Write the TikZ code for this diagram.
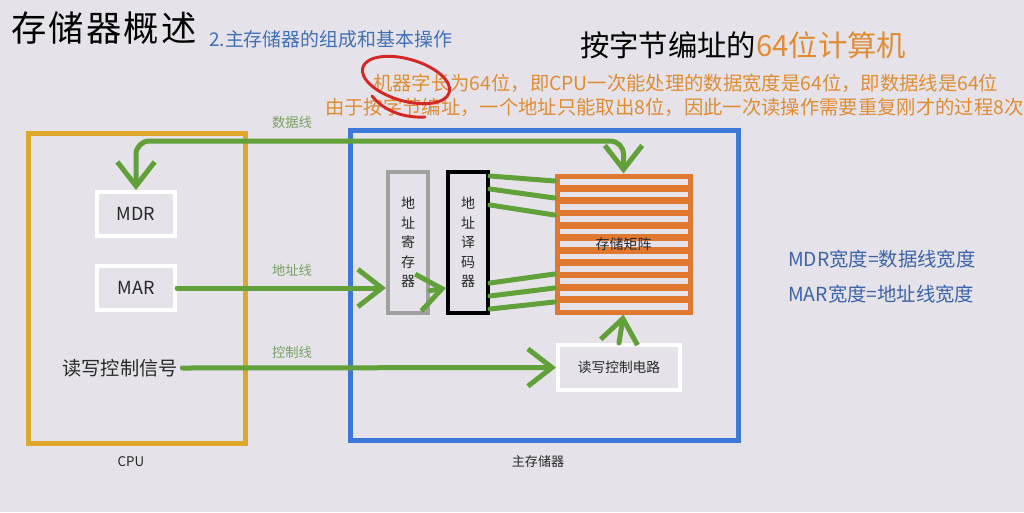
\documentclass[tikz,border=0pt]{standalone}
\usepackage{fontspec}
\setmainfont{Noto Sans CJK SC}
\usetikzlibrary{arrows.meta,calc}
\definecolor{bg}{RGB}{229,227,233}
\definecolor{gold}{RGB}{224,168,40}
\definecolor{boxblue}{RGB}{60,120,216}
\definecolor{lgreen}{RGB}{98,160,58}
\definecolor{morange}{RGB}{224,120,48}
\definecolor{torange}{RGB}{224,140,50}
\definecolor{subblue}{RGB}{64,112,184}
\definecolor{rblue}{RGB}{60,100,170}
\definecolor{labgreen}{RGB}{120,160,100}
\definecolor{dtext}{RGB}{40,40,40}
\definecolor{rgray}{RGB}{160,160,160}
\definecolor{redc}{RGB}{212,40,40}
\newcommand{\fsz}[1]{\fontsize{#1}{#1}\selectfont}
\begin{document}
\begin{tikzpicture}[x=0.75pt,y=-0.75pt,
  whitebox/.style={draw=white,line width=3pt,text=dtext,inner sep=0pt},
  vbox/.style={line width=3pt,inner sep=0pt,align=center,text=dtext,font=\fontsize{10.5pt}{14.6pt}\selectfont},
  gline/.style={draw=lgreen,line width=3.75pt,line cap=round,line join=round},
  garrow/.style={gline,-{Straight Barb[length=18pt,width=28pt]}},
  glabel/.style={text=labgreen,font=\fsz{10pt}},
  otext/.style={text=torange,font=\fsz{14.5pt},anchor=west,inner sep=0pt},
  rtext/.style={text=rblue,font=\fsz{14.5pt},anchor=west,inner sep=0pt}]
\fill[bg] (0,0) rectangle (1024,512);
\useasboundingbox (0,0) rectangle (1024,512);

% titles
\node[anchor=west,inner sep=0pt,text=black,font=\fsz{26.5pt}] (title) at (11,28) {存\kern1.6pt 储\kern1.6pt 器\kern1.6pt 概\kern1.6pt 述};
\node[anchor=west,inner sep=0pt,text=subblue,font=\fsz{14.2pt}] (subtitle) at (209,39) {2.主存储器的组成和基本操作};
\node[anchor=west,inner sep=0pt,text=black,font=\fsz{22pt}] (head) at (580,45) {按字节编址的\textcolor{torange}{64位计算机}};
\node[otext] (line1) at (373,83) {机器字长为64位，即CPU一次能处理的数据宽度是64位，即数据线是64位};
\node[otext] (line2) at (325,107) {由于按字节编址，一个地址只能取出8位，因此一次读操作需要重复刚才的过程8次};
\draw[redc,line width=2.2pt,line cap=round] (406,80) ellipse [x radius=45, y radius=21, rotate=-16];
\draw[redc,line width=2.2pt,line cap=round] (372,96) .. controls (385,112) and (405,118) .. (425,117);

% big boxes
\node[draw=gold,line width=3.75pt,minimum width=162.75pt,minimum height=232.5pt,inner sep=0pt] (cpu) at (136.5,288) {};
\node[draw=boxblue,line width=3.75pt,minimum width=291pt,minimum height=232.5pt,inner sep=0pt] (mem) at (544,285) {};
\node[text=dtext,font=\fsz{10pt}] (cpulbl) at (131,462) {CPU};
\node[text=dtext,font=\fsz{9.8pt}] (memlbl) at (538,462) {主存储器};

% CPU parts
\node[whitebox,minimum width=58.5pt,minimum height=33pt,font=\fsz{13.5pt}] (mdr) at (136,214) {MDR};
\node[whitebox,minimum width=58.5pt,minimum height=33pt,font=\fsz{13.5pt}] (mar) at (136,288) {MAR};
\node[text=dtext,font=\fsz{14.4pt}] (sig) at (120,368) {读写控制信号};

% memory parts
\node[vbox,draw=rgray,minimum width=30pt,minimum height=105.75pt] (areg) at (408,242.5) {地\\址\\寄\\存\\器};
\node[vbox,draw=black,minimum width=30pt,minimum height=105.75pt] (adec) at (468,242.5) {地\\址\\译\\码\\器};
\node[draw=morange,line width=3.75pt,minimum width=99.75pt,minimum height=102pt,inner sep=0pt] (mat) at (623.5,244) {};
\foreach \k in {1,...,10} {
  \draw[morange,line width=5pt] (mat.west |- 0,{176+\k*12.36}) -- (mat.east |- 0,{176+\k*12.36});
}
\node[text=dtext,font=\fsz{10.5pt}] (matlbl) at (mat.center) {存储矩阵};
\node[whitebox,minimum width=91.5pt,minimum height=33.75pt,font=\fsz{10.3pt}] (rwc) at (619,367.5) {读写控制电路};

% connectors
\coordinate (dtop) at (0,141);
\draw[gline,rounded corners=10pt,{Straight Barb[length=18pt,width=28pt]}-{Straight Barb[length=18pt,width=28pt]}]
  (mdr.north) -- (mdr.north |- dtop) -- (mat.north |- dtop) -- (mat.north);
\draw[garrow] (mar.east) -- (areg.west |- mar.east);
\draw[garrow] ([yshift=-2pt]areg.east |- mar.east) -- (adec.west |- mar.east);
\draw[gline] (adec.east |- 0,176) -- (mat.west |- 0,181);
\draw[gline] (adec.east |- 0,189) -- (mat.west |- 0,198);
\draw[gline] (adec.east |- 0,205) -- (mat.west |- 0,215);
\draw[gline] (adec.east |- 0,283) -- (mat.west |- 0,274);
\draw[gline] (adec.east |- 0,296) -- (mat.west |- 0,288);
\draw[gline] (adec.east |- 0,309) -- (mat.west |- 0,302);
\draw[garrow] (sig.east) -- (rwc.west);
\draw[garrow] (rwc.north) -- (mat.south);
\node[glabel] (dlbl) at (292,122) {数据线};
\node[glabel] (albl) at (292,270) {地址线};
\node[glabel] (clbl) at (292,352) {控制线};

% right notes
\node[rtext] (note1) at (788,259) {MDR宽度=数据线宽度};
\node[rtext] (note2) at (788,294) {MAR宽度=地址线宽度};
\end{tikzpicture}
\end{document}
